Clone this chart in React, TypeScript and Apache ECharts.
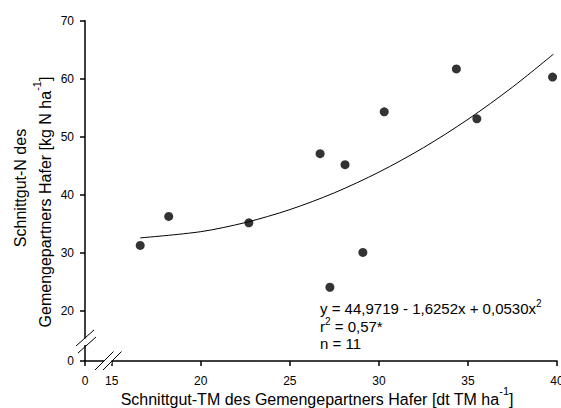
import React, { useEffect, useRef } from 'react';
import * as echarts from 'echarts';

// Observed points (dry matter of oat partner vs. N in cut material)
const pointX = [16.6, 18.2, 22.7, 26.7, 27.25, 28.1, 29.1, 30.3, 34.35, 35.5, 39.75];
const pointY = [31.3, 36.3, 35.2, 47.1, 24.1, 45.2, 30.1, 54.3, 61.7, 53.1, 60.3];

// Fitted curve
const fitX = [16.6, 20, 22.5, 25, 27.5, 30, 32.5, 35, 37.5, 39.8];
const fitY = [32.6, 33.67, 35.24, 37.47, 40.36, 43.92, 48.13, 53.01, 58.56, 64.24];

// Axis ticks (first tick stands for the broken-axis "0")
const xTickValues = [13.5, 15, 20, 25, 30, 35, 40];
const xTickLabels = ['0', '15', '20', '25', '30', '35', '40'];
const yTickValues = [11.4, 20, 30, 40, 50, 60, 70];
const yTickLabels = ['0', '20', '30', '40', '50', '60', '70'];

// Texts: [normal, superscript, normal]
const xTitle = ['Schnittgut-TM des Gemengepartners Hafer [dt TM ha', '-1', ']'];
const yTitle1 = ['Schnittgut-N des', '', ''];
const yTitle2 = ['Gemengepartners Hafer [kg N ha', '-1', ']'];
const eqLines = [
  ['y = 44,9719 - 1,6252x + 0,0530x', '2', ''],
  ['r', '2', ' = 0,57*'],
  ['n = 11', '', ''],
];

const FONT = '"Liberation Sans", Arial, Helvetica, sans-serif';

function rich(parts: string[]) {
  return parts.map((p, i) => (p ? `{${i % 2 ? 's' : 'n'}|${p}}` : '')).join('');
}

function richStyles(fs: number, lh: number, sfs: number) {
  return {
    n: { fontSize: fs, fontFamily: FONT, fill: '#000', color: '#000', lineHeight: lh },
    s: { fontSize: sfs, fontFamily: FONT, fill: '#000', color: '#000', lineHeight: sfs, verticalAlign: 'top' },
  };
}

function textEl(parts: string[], x: number, y: number, fs: number, lh: number, sfs: number, align: string, rotation = 0) {
  return {
    type: 'text',
    x,
    y,
    rotation,
    z: 100,
    style: {
      text: rich(parts),
      rich: richStyles(fs, lh, sfs),
      fontSize: fs,
      fontFamily: FONT,
      fill: '#000',
      align,
      verticalAlign: 'middle',
      textAlign: align,
      textVerticalAlign: 'middle',
    },
  };
}

export default function App() {
  const ref = useRef<HTMLDivElement>(null);

  useEffect(() => {
    if (!ref.current) return;
    const chart = echarts.init(ref.current, undefined, { renderer: 'svg' });

    const xMin = xTickValues[0];
    const yMin = yTickValues[0];
    const xFmt = (v: number) => {
      const i = xTickValues.findIndex((t) => Math.abs(t - v) < 1e-6);
      return i >= 0 ? xTickLabels[i] : '';
    };
    const yFmt = (v: number) => {
      const i = yTickValues.findIndex((t) => Math.abs(t - v) < 1e-6);
      return i >= 0 ? yTickLabels[i] : '';
    };

    const axisCommon = {
      type: 'value',
      splitLine: { show: false },
      axisLine: { show: true, onZero: false, lineStyle: { color: '#000', width: 1.5 } },
      axisTick: { show: true, inside: false, length: 5, lineStyle: { color: '#000', width: 1.5 } },
    };

    chart.setOption({
      animation: false,
      backgroundColor: '#fff',
      grid: { left: 85, right: 4, top: 20.7, bottom: 47, containLabel: false, outerBoundsMode: 'none' },
      xAxis: {
        ...axisCommon,
        min: xMin,
        max: 40,
        axisTick: { ...axisCommon.axisTick, customValues: xTickValues },
        axisLabel: {
          customValues: xTickValues,
          formatter: xFmt,
          color: '#000',
          fontSize: 12,
          fontFamily: FONT,
          margin: 14,
        },
      },
      yAxis: {
        ...axisCommon,
        min: yMin,
        max: 70,
        axisTick: { ...axisCommon.axisTick, customValues: yTickValues },
        axisLabel: {
          customValues: yTickValues,
          formatter: yFmt,
          color: '#000',
          fontSize: 12,
          fontFamily: FONT,
          margin: 11,
        },
      },
      series: [
        {
          type: 'line',
          data: fitX.map((x, i) => [x, fitY[i]]),
          smooth: 0.3,
          showSymbol: false,
          symbol: 'none',
          lineStyle: { color: '#000', width: 1 },
          silent: true,
          z: 2,
        },
        {
          type: 'scatter',
          data: pointX.map((x, i) => [x, pointY[i]]),
          symbol: 'circle',
          symbolSize: 9,
          itemStyle: { color: '#000' },
          z: 3,
        },
      ],
      graphic: [
        // y-axis break
        { type: 'rect', z: 90, shape: { x: 82, y: 338.5, width: 6, height: 6.5 }, style: { fill: '#fff' } },
        { type: 'line', z: 91, shape: { x1: 76, y1: 346, x2: 94, y2: 330 }, style: { stroke: '#000', lineWidth: 1 } },
        { type: 'line', z: 91, shape: { x1: 78, y1: 353, x2: 96, y2: 337 }, style: { stroke: '#000', lineWidth: 1 } },
        // x-axis break
        { type: 'rect', z: 90, shape: { x: 104, y: 358, width: 7.5, height: 6 }, style: { fill: '#fff' } },
        { type: 'line', z: 91, shape: { x1: 95, y1: 370, x2: 113.5, y2: 351.5 }, style: { stroke: '#000', lineWidth: 1 } },
        { type: 'line', z: 91, shape: { x1: 103, y1: 370, x2: 121.5, y2: 351.5 }, style: { stroke: '#000', lineWidth: 1 } },
        // axis titles
        textEl(xTitle, 317, 399, 16, 28, 11, 'center'),
        textEl(yTitle1, 20, 188, 16, 20, 11, 'center', Math.PI / 2),
        textEl(yTitle2, 45, 202, 16, 28, 11, 'center', Math.PI / 2),
        // equation block
        textEl(eqLines[0], 320, 308, 15, 20, 10, 'left'),
        textEl(eqLines[1], 320, 326, 15, 20, 10, 'left'),
        textEl(eqLines[2], 320, 343, 15, 20, 10, 'left'),
      ],
    });

    return () => chart.dispose();
  }, []);

  return <div ref={ref} style={{ position: 'fixed', left: 0, top: 0, width: 561, height: 408 }} />;
}
